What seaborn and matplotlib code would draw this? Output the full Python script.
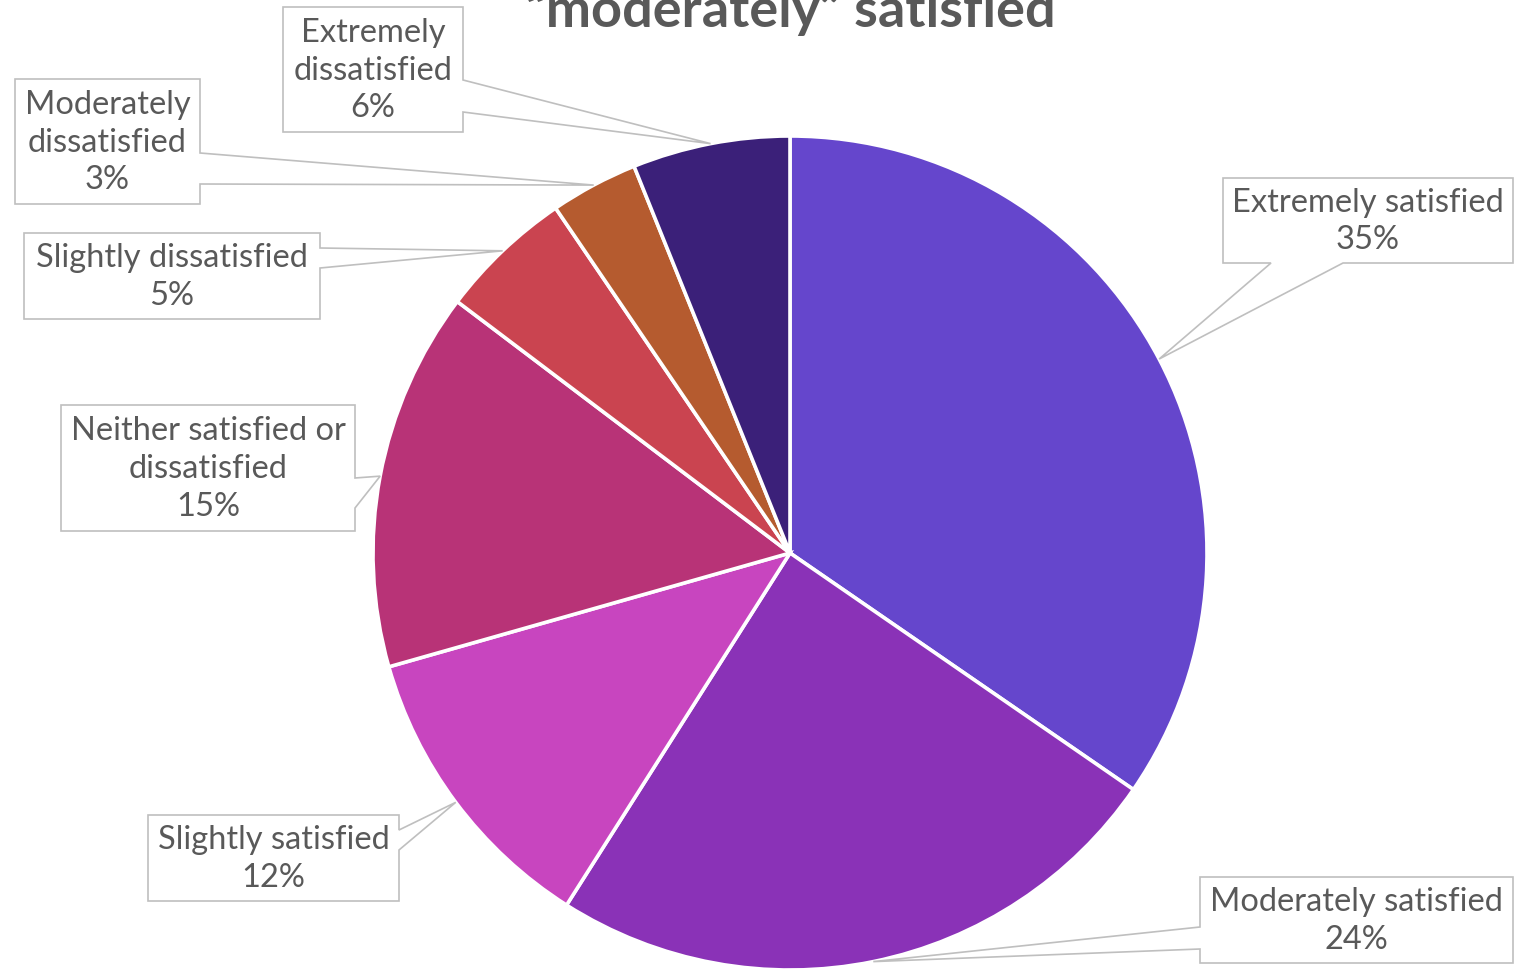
import numpy as np
import matplotlib
matplotlib.use("Agg")
import matplotlib.pyplot as plt
from matplotlib.patches import Polygon
import seaborn as sns

# ---------------- data ----------------
categories = ["Extremely satisfied", "Moderately satisfied", "Slightly satisfied",
              "Neither satisfied or\ndissatisfied", "Slightly dissatisfied",
              "Moderately\ndissatisfied", "Extremely\ndissatisfied"]
values = [34.6, 24.4, 11.6, 14.7, 5.2, 3.4, 6.1]
colors = ["#6546CC", "#8A32B7", "#C845BF", "#B83377", "#CA4450", "#B55B2F", "#3B2079"]
title_text = "\u201cmoderately\u201d satisfied"

# ---------------- layout (pixels) ----------------
W, H = 1524, 974
CX, CY, R = 790, 553, 417
box_px = [(1223, 178, 1513, 263), (1200, 877, 1513, 963), (148, 815, 399, 901),
          (61, 405, 355, 531), (24, 233, 320, 319), (15, 79, 200, 204), (283, 7, 463, 132)]
sides = ["bottom", "left", "right", "right", "right", "right", "right"]
bases = [(1271, 1343), (927, 949), (830, 850), (478, 508), (248, 268), (153, 184), (80, 112)]

TEXT_COLOR = "#595959"
EDGE_COLOR = "#BFBFBF"

sns.set_theme(style="white")
plt.rcParams['font.family'] = ['Lato', 'DejaVu Sans']
palette = sns.color_palette(colors)


def px(x, y):
    return ((x - CX) / R, (CY - y) / R)


fig = plt.figure(figsize=(W / 100, H / 100), dpi=100)
ax = fig.add_axes([0, 0, 1, 1])

wedges, _ = ax.pie(values, colors=palette, startangle=90, counterclock=False,
                   radius=1.0, center=(0, 0),
                   wedgeprops=dict(edgecolor="white", linewidth=2.6))

ax.set_xlim(-CX / R, (W - CX) / R)
ax.set_ylim((CY - H) / R, CY / R)
ax.set_aspect("equal", adjustable="box")
ax.axis("off")

for w, label, val, (x0, y0, x1, y1), side, (b1, b2) in zip(
        wedges, categories, values, box_px, sides, bases):
    mid = np.deg2rad((w.theta1 + w.theta2) / 2)
    tip = (np.cos(mid), np.sin(mid))
    if side == "bottom":
        pts = [px(x0, y0), px(x1, y0), px(x1, y1), px(b2, y1), tip, px(b1, y1), px(x0, y1)]
    elif side == "left":
        pts = [px(x0, y0), px(x1, y0), px(x1, y1), px(x0, y1), px(x0, b2), tip, px(x0, b1)]
    else:
        pts = [px(x0, y0), px(x1, y0), px(x1, b1), tip, px(x1, b2), px(x1, y1), px(x0, y1)]
    poly = Polygon(pts, closed=True, facecolor="white", edgecolor=EDGE_COLOR,
                   linewidth=1.2, zorder=5)
    ax.add_patch(poly)
    cx, cy = px((x0 + x1) / 2, (y0 + y1) / 2 + 1)
    ax.text(cx, cy, f"{label}\n{round(val):.0f}%", ha="center", va="center",
            fontsize=23.5, color=TEXT_COLOR, fontweight="normal", linespacing=1.33,
            zorder=6)

tx, ty = px(790, 27)
ax.text(tx, ty, title_text, ha="center", va="baseline", fontsize=39,
        fontweight="bold", color=TEXT_COLOR, zorder=6)

fig.savefig("out.png", dpi=100)
